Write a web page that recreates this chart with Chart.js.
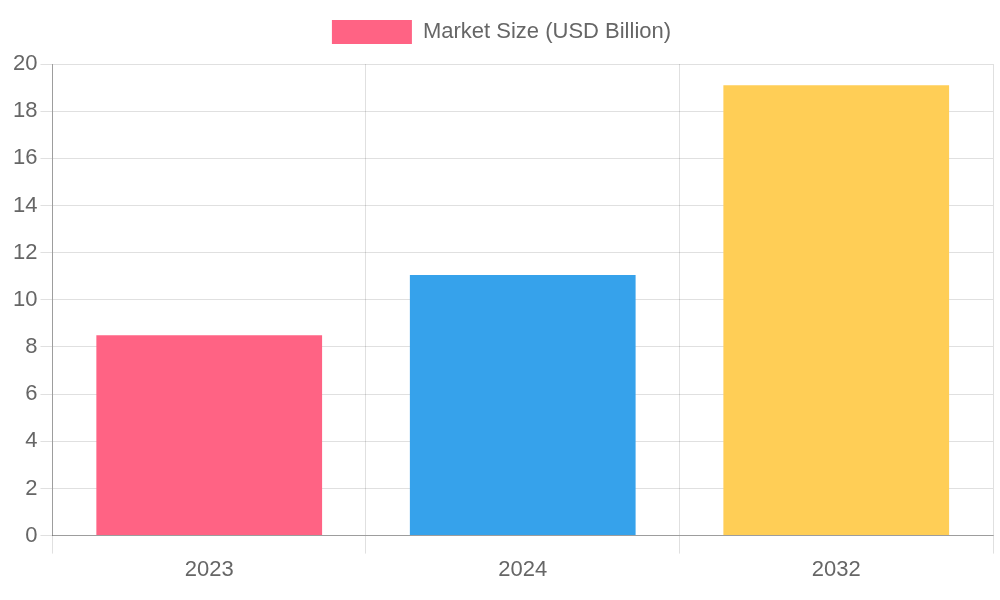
<!DOCTYPE html>
<html><head><meta charset="utf-8">
<script src="https://cdn.jsdelivr.net/npm/chart.js@4"></script>
<style>html,body{margin:0;padding:0;background:#fff}#w{width:1000px;height:600px}</style>
</head><body><div id="w"><canvas id="c"></canvas></div>
<script>
const categories = ["2023", "2024", "2032"];
const marketSize = [8.5, 11.05, 19.1];
const barColors = ["#ff6384", "#36a2eb", "#ffce56"];
const yTicks = [0, 2, 4, 6, 8, 10, 12, 14, 16, 18, 20];
Chart.defaults.font.family = "'Liberation Sans', Arial, sans-serif";
Chart.defaults.font.size = 22;
Chart.defaults.color = "#666";
new Chart(document.getElementById('c'), {
  type: 'bar',
  data: { labels: categories, datasets: [{ label: 'Market Size (USD Billion)', data: marketSize, backgroundColor: barColors }] },
  options: {
    responsive: true, maintainAspectRatio: false, animation: false,
    layout: { padding: { left: 10, right: 7, top: 10, bottom: 14 } },
    plugins: { legend: { labels: { boxWidth: 80, boxHeight: 24, padding: 10 } } },
    scales: {
      y: { min: 0, max: 20, grid: { color: 'rgba(0,0,0,0.12)', tickLength: 12 },
           border: { color: 'rgba(0,0,0,0.3)' },
           afterBuildTicks: a => { a.ticks = yTicks.map(v => ({ value: v })); } },
      x: { grid: { color: 'rgba(0,0,0,0.12)', tickLength: 18 }, border: { color: 'rgba(0,0,0,0.3)' } }
    }
  },
  plugins: [{ id: 'legendGap', beforeInit(chart) {
    const fit = chart.legend.fit;
    chart.legend.fit = function() { fit.bind(chart.legend)(); this.height += 10; };
  } }]
});
</script></body></html>
